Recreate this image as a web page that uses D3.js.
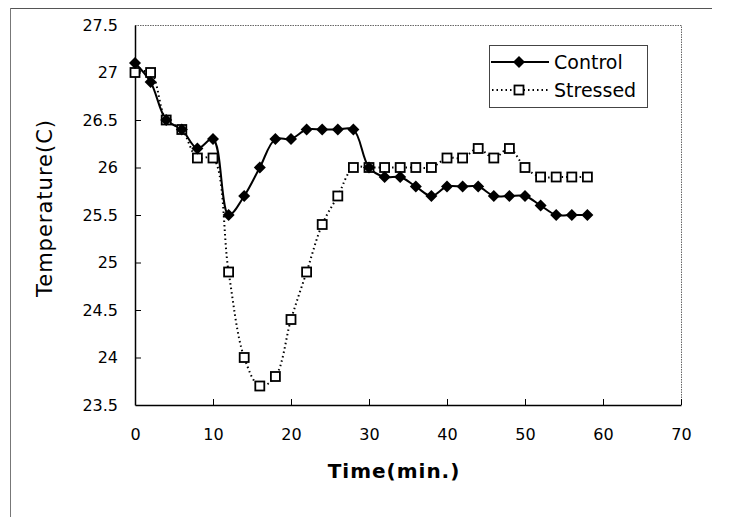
<!DOCTYPE html>
<html><head><meta charset="utf-8">
<script src="https://cdn.jsdelivr.net/npm/d3@7"></script>
<style>body{margin:0;background:#fff}svg{display:block}</style>
</head><body>
<svg id="chart" width="737" height="517"></svg>
<script>
const times = [0,2,4,6,8,10,12,14,16,18,20,22,24,26,28,30,32,34,36,38,40,42,44,46,48,50,52,54,56,58];
const control = [27.1,26.9,26.5,26.4,26.2,26.3,25.5,25.7,26.0,26.3,26.3,26.4,26.4,26.4,26.4,26.0,25.9,25.9,25.8,25.7,25.8,25.8,25.8,25.7,25.7,25.7,25.6,25.5,25.5,25.5];
const stressed = [27.0,27.0,26.5,26.4,26.1,26.1,24.9,24.0,23.7,23.8,24.4,24.9,25.4,25.7,26.0,26.0,26.0,26.0,26.0,26.0,26.1,26.1,26.2,26.1,26.2,26.0,25.9,25.9,25.9,25.9];
const xTicks = [0,10,20,30,40,50,60,70];
const yTicks = [23.5,24,24.5,25,25.5,26,26.5,27,27.5];
const seriesNames = ["Control","Stressed"];

(function(){
const svg = d3.select("#chart");
const pL=135, pR=681, pT=25, pB=405;
const x = d3.scaleLinear().domain([0,70]).range([pL,pR]);
const y = d3.scaleLinear().domain([23.5,27.5]).range([pB,pT]);
const font = "'DejaVu Sans', Arial, sans-serif";

// outer chart border (top & left visible)
svg.append("line").attr("x1",10).attr("x2",712).attr("y1",8.5).attr("y2",8.5).attr("stroke","#555").attr("stroke-width",1);
svg.append("line").attr("x1",10.5).attr("x2",10.5).attr("y1",8).attr("y2",517).attr("stroke","#777").attr("stroke-width",1);

// plot area top/right border (dotted gray)
svg.append("path").attr("d",`M${pL},${pT+0.5}H${pR+0.5}V${pB}`).attr("fill","none")
  .attr("stroke","#666").attr("stroke-width",1).attr("stroke-dasharray","1.5,1");

// axes
const xAxis = d3.axisBottom(x).tickValues(xTicks).tickSizeInner(-6).tickSizeOuter(0).tickPadding(24).tickFormat(d3.format("d"));
const gx = svg.append("g").attr("transform",`translate(0,${pB})`).call(xAxis);
const yAxis = d3.axisLeft(y).tickValues(yTicks).tickSizeInner(-6).tickSizeOuter(0).tickPadding(17).tickFormat(d=>String(d));
const gy = svg.append("g").attr("transform",`translate(${pL},0)`).call(yAxis);
[gx,gy].forEach(g=>{
  g.select(".domain").attr("stroke","#000").attr("stroke-width",1.5);
  g.selectAll(".tick line").attr("stroke","#000").attr("stroke-width",1);
  g.selectAll(".tick text").attr("font-family",font).attr("font-size",16).attr("fill","#000");
});
gy.selectAll(".tick").filter(d=>d===23.5||d===27.5).select("line").remove();
gx.selectAll(".tick").filter(d=>d===0).select("line").remove();

// axis titles
svg.append("text").attr("x",(pL+pR)/2-14).attr("y",478).attr("text-anchor","middle")
  .attr("font-family",font).attr("font-size",20).attr("font-weight","bold").attr("letter-spacing",1).text("Time(min.)");
svg.append("text").attr("transform","translate(52,208) rotate(-90)").attr("text-anchor","middle")
  .attr("font-family",font).attr("font-size",21).attr("letter-spacing",1).text("Temperature(C)");

// lines
const lineGen = vals => d3.line().x((d,i)=>x(times[i])).y(d=>y(d)).curve(d3.curveCatmullRom.alpha(0.5))(vals);
svg.append("path").attr("d",lineGen(stressed)).attr("fill","none").attr("stroke","#000").attr("stroke-width",2).attr("stroke-dasharray","1.5,3");
svg.append("path").attr("d",lineGen(control)).attr("fill","none").attr("stroke","#000").attr("stroke-width",2);

const sq = 9, dm = 6;
function square(g,cx,cy){g.append("rect").attr("x",cx-sq/2).attr("y",cy-sq/2).attr("width",sq).attr("height",sq).attr("fill","#fff").attr("stroke","#000").attr("stroke-width",1.8);}
function diamond(g,cx,cy){g.append("path").attr("d",`M${cx},${cy-dm}L${cx+dm},${cy}L${cx},${cy+dm}L${cx-dm},${cy}Z`).attr("fill","#000");}
const gs = svg.append("g");
stressed.forEach((v,i)=>square(gs,x(times[i]),y(v)));
const gc = svg.append("g");
control.forEach((v,i)=>diamond(gc,x(times[i]),y(v)));

// legend
const lg = svg.append("g");
lg.append("rect").attr("x",489.5).attr("y",45.5).attr("width",158).attr("height",62).attr("fill","#fff").attr("stroke","#444").attr("stroke-width",1);
lg.append("line").attr("x1",491).attr("x2",549).attr("y1",62).attr("y2",62).attr("stroke","#000").attr("stroke-width",2);
diamond(lg,519,62);
lg.append("line").attr("x1",492).attr("x2",549).attr("y1",90).attr("y2",90).attr("stroke","#000").attr("stroke-width",2).attr("stroke-dasharray","1.5,3");
square(lg,519,90);
seriesNames.forEach((n,i)=>{
  lg.append("text").attr("x",554).attr("y",69+i*28).attr("font-family",font).attr("font-size",19).attr("fill","#000").text(n);
});
})();
</script>
</body></html>
